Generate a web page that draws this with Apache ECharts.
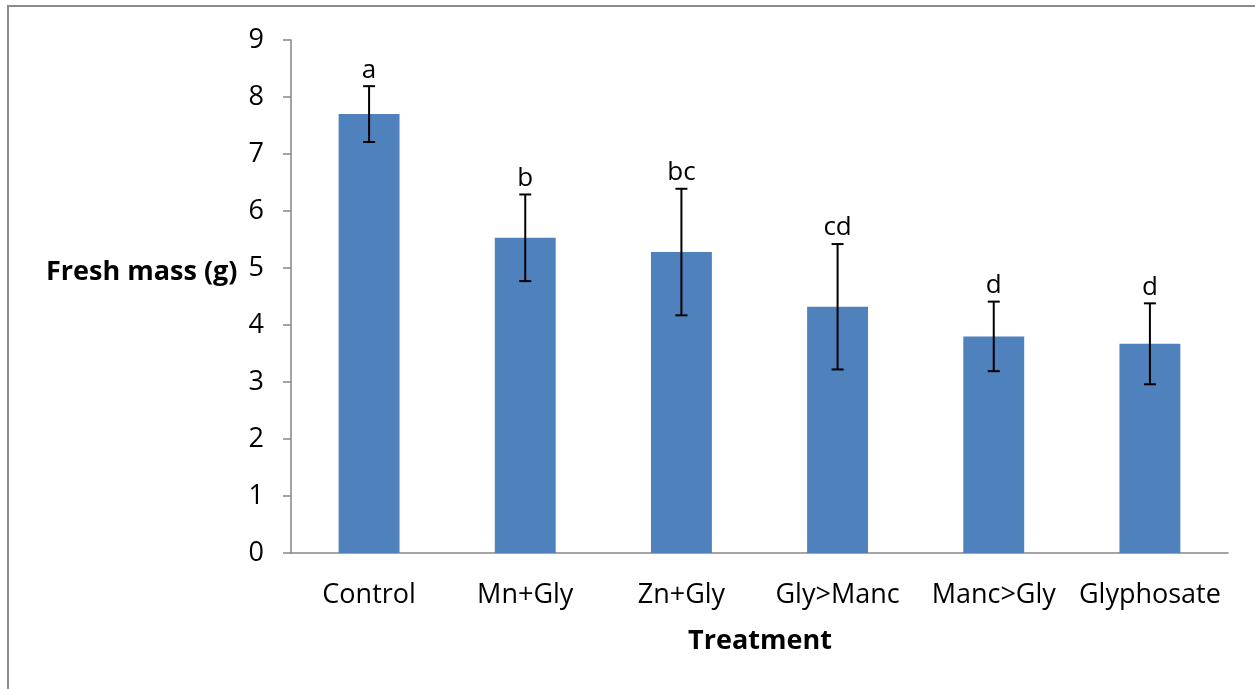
<!DOCTYPE html>
<html><head><meta charset="utf-8">
<script src="https://cdn.jsdelivr.net/npm/echarts@6/dist/echarts.min.js"></script>
<style>html,body{margin:0;padding:0;background:#fff}#c{width:1255px;height:689px}</style>
</head><body><div id="c"></div>
<script>
const categories = ['Control','Mn+Gly','Zn+Gly','Gly>Manc','Manc>Gly','Glyphosate'];
const means = [7.70, 5.53, 5.28, 4.32, 3.80, 3.67];
const errors = [0.49, 0.76, 1.11, 1.10, 0.61, 0.71];
const letters = ['a','b','bc','cd','d','d'];
const yTicks = [0,1,2,3,4,5,6,7,8,9];

const font = '"Open Sans", "Noto Sans", sans-serif';
const chart = echarts.init(document.getElementById('c'));
chart.setOption({
  animation:false,
  backgroundColor:'#fff',
  grid:{left:291,right:27,top:40,bottom:136},
  graphic:[
    {type:'rect',shape:{x:8,y:6,width:1260,height:700},style:{fill:'none',stroke:'#8c8c8c',lineWidth:2},z:-1},
    {type:'text',x:46,y:272,style:{text:'Fresh mass (g)',font:'bold 27px '+font,fill:'#000',verticalAlign:'middle'}},
    {type:'text',x:760,y:641,style:{text:'Treatment',font:'bold 27px '+font,fill:'#000',align:'center',verticalAlign:'middle'}}
  ],
  xAxis:{type:'category',data:categories,
    axisLine:{lineStyle:{color:'#868686',width:1.5}},
    axisTick:{length:9,lineStyle:{color:'#868686',width:1.5}},
    axisLabel:{color:'#000',fontSize:27,fontFamily:font,margin:29,interval:0}},
  yAxis:{type:'value',min:0,max:9,interval:1,
    axisLine:{show:true,lineStyle:{color:'#868686',width:1.5}},
    axisTick:{show:true,length:8,lineStyle:{color:'#868686',width:1.5}},
    splitLine:{show:false},
    axisLabel:{color:'#000',fontSize:27,fontFamily:font,margin:27,
      formatter:v=>yTicks.includes(v)?String(v):''}},
  series:[
    {type:'bar',data:means,barWidth:'39%',itemStyle:{color:'#4f81bd'}},
    {type:'custom',
     data:means.map((m,i)=>[i,m-errors[i],m+errors[i]]),
     renderItem:(params,api)=>{
       const lo=api.coord([api.value(0),api.value(1)]);
       const hi=api.coord([api.value(0),api.value(2)]);
       const x=lo[0], w=6;
       const st={stroke:'#000',lineWidth:2};
       return {type:'group',children:[
         {type:'line',shape:{x1:x,y1:lo[1],x2:x,y2:hi[1]},style:st},
         {type:'line',shape:{x1:x-w,y1:lo[1],x2:x+w,y2:lo[1]},style:st},
         {type:'line',shape:{x1:x-w,y1:hi[1],x2:x+w,y2:hi[1]},style:st},
         {type:'text',x:x,y:hi[1]-3,style:{text:letters[params.dataIndex],font:'26px '+font,fill:'#000',align:'center',verticalAlign:'bottom'}}
       ]};
     },z:5}
  ]
});
</script></body></html>
